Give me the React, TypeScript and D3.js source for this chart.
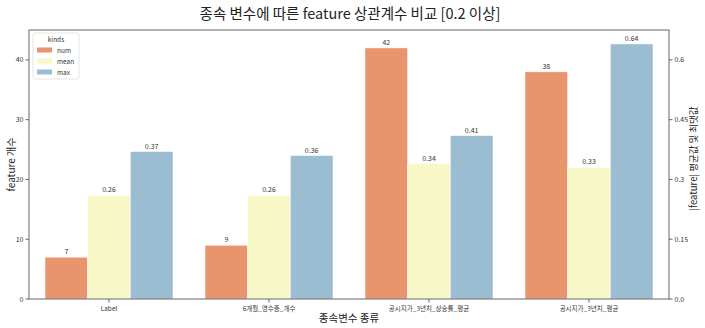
import React from "react";
import * as d3 from "d3";

const categories = ["Label", "6개월_영수증_개수", "공시지가_3년치_상승률_평균", "공시지가_3년치_평균"];
const kinds = ["num", "mean", "max"];
const numValues = [7, 9, 42, 38];
const meanValues = [0.26, 0.26, 0.34, 0.33];
const maxValues = [0.37, 0.36, 0.41, 0.64];
const leftTicks = [0, 10, 20, 30, 40];
const rightTicks = [0, 0.15, 0.3, 0.45, 0.6];

const W = 705;
const H = 328;
const plot = { left: 29, right: 669, top: 30, bottom: 299 };
const colors: Record<string, string> = { num: "#e8946d", mean: "#f7f7c7", max: "#9bbdd2" };
const FONT = "'Noto Sans CJK KR', 'Noto Sans', sans-serif";
const TEXT = "#333";
const AXIS = "#666";

export default function App() {
  const x = d3.scaleBand<string>().domain(categories).range([plot.left, plot.right]).paddingInner(0).paddingOuter(0);
  const inner = d3.scaleBand<string>().domain(kinds).range([0, x.bandwidth() * 0.8]);
  const yLeft = d3.scaleLinear().domain([0, 45]).range([plot.bottom, plot.top]);
  const yRight = d3.scaleLinear().domain([0, 0.675]).range([plot.bottom, plot.top]);

  const bars = categories.flatMap((c, i) => [
    { c, kind: "num", v: numValues[i], y: yLeft(numValues[i]), label: String(numValues[i]) },
    { c, kind: "mean", v: meanValues[i], y: yRight(meanValues[i]), label: meanValues[i].toFixed(2) },
    { c, kind: "max", v: maxValues[i], y: yRight(maxValues[i]), label: maxValues[i].toFixed(2) },
  ]);

  const fmtRight = (t: number) => (t === 0 ? "0.0" : String(t));

  return (
    <svg width={W} height={H} style={{ position: "absolute", left: 0, top: 0, fontFamily: FONT }}>
      <rect width={W} height={H} fill="#fff" />
      <text x={350} y={19} textAnchor="middle" fontSize={14.5} fill="#222">
        종속 변수에 따른 feature 상관계수 비교 [0.2 이상]
      </text>

      {bars.map((b, i) => {
        const bx = (x(b.c) as number) + x.bandwidth() * 0.1 + (inner(b.kind) as number);
        const bw = inner.bandwidth();
        return (
          <g key={i}>
            <rect x={bx} y={b.y} width={bw} height={plot.bottom - b.y} fill={colors[b.kind]} stroke="#fff" strokeWidth={0.5} />
            <text x={bx + bw / 2} y={b.y - 3} textAnchor="middle" fontSize={7} fill={TEXT}>
              {b.label}
            </text>
          </g>
        );
      })}

      {/* frame */}
      <rect x={plot.left} y={plot.top} width={plot.right - plot.left} height={plot.bottom - plot.top} fill="none" stroke={AXIS} strokeWidth={1} />

      {/* left axis */}
      {leftTicks.map((t) => (
        <g key={"l" + t}>
          <line x1={plot.left - 3.5} x2={plot.left} y1={yLeft(t)} y2={yLeft(t)} stroke={AXIS} />
          <text x={plot.left - 5.5} y={yLeft(t) + 2.5} textAnchor="end" fontSize={7} fill={TEXT}>
            {t}
          </text>
        </g>
      ))}
      {/* right axis */}
      {rightTicks.map((t) => (
        <g key={"r" + t}>
          <line x1={plot.right} x2={plot.right + 3.5} y1={yRight(t)} y2={yRight(t)} stroke={AXIS} />
          <text x={plot.right + 5.5} y={yRight(t) + 2.5} textAnchor="start" fontSize={7} fill={TEXT}>
            {fmtRight(t)}
          </text>
        </g>
      ))}
      {/* x axis */}
      {categories.map((c) => {
        const cx = (x(c) as number) + x.bandwidth() / 2;
        return (
          <g key={c}>
            <line x1={cx} x2={cx} y1={plot.bottom} y2={plot.bottom + 3.5} stroke={AXIS} />
            <text x={cx} y={plot.bottom + 11.5} textAnchor="middle" fontSize={6.5} fill={TEXT}>
              {c}
            </text>
          </g>
        );
      })}

      <text x={349} y={322} textAnchor="middle" fontSize={10.5} fill="#222">
        종속변수 종류
      </text>
      <text transform={`translate(15,${(plot.top + plot.bottom) / 2}) rotate(-90)`} textAnchor="middle" fontSize={10} fill="#222">
        feature 개수
      </text>
      <text transform={`translate(697,${(plot.top + plot.bottom) / 2 - 6}) rotate(-90)`} textAnchor="middle" fontSize={9.5} fill="#222">
        |feature| 평균값 및 최댓값
      </text>

      {/* legend */}
      <g>
        <rect x={33} y={33} width={46} height={46} rx={2} fill="#fff" fillOpacity={0.8} stroke="#ddd" strokeWidth={0.8} />
        <text x={56} y={42} textAnchor="middle" fontSize={6.5} fill={TEXT}>
          kinds
        </text>
        {kinds.map((k, i) => (
          <g key={k}>
            <rect x={37} y={47.5 + i * 11} width={15} height={5} fill={colors[k]} />
            <text x={57} y={52.5 + i * 11} fontSize={6.5} fill={TEXT}>
              {k}
            </text>
          </g>
        ))}
      </g>
    </svg>
  );
}
